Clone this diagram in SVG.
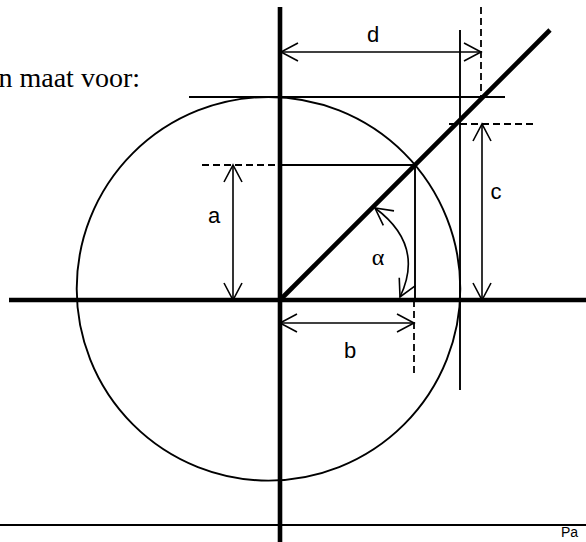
<svg xmlns="http://www.w3.org/2000/svg" width="586" height="542" viewBox="0 0 586 542">
<style>
.thick{stroke:#000;stroke-width:4.6;fill:none}
.thin{stroke:#000;stroke-width:1.9;fill:none}
.dash{stroke:#000;stroke-width:1.8;fill:none;stroke-dasharray:7 4}
.dim{stroke:#000;stroke-width:1.6;fill:none;marker-start:url(#ah);marker-end:url(#ah)}
.lbl{font-family:"Liberation Sans","Open Sans",Arial,sans-serif;font-size:22px;fill:#000;text-anchor:middle}
.serif{font-family:"Liberation Serif","Times New Roman",serif;fill:#000}
</style>
<defs>
<marker id="ah" markerUnits="userSpaceOnUse" markerWidth="40" markerHeight="40" viewBox="-20 -20 40 40" refX="0" refY="0" orient="auto-start-reverse" overflow="visible">
<path d="M-17,-9 L0,0 L-17,9" fill="none" stroke="#000" stroke-width="1.6"/>
</marker>
</defs>
<rect width="586" height="542" fill="#fff"/>
<g id="heading">
<text class="serif" x="140" y="87" font-size="28" text-anchor="end">n maat voor:</text>
</g>
<g id="circle">
<circle cx="268.5" cy="288.8" r="191.8" class="thin"/>
</g>
<g id="axes">
<line x1="9" y1="300" x2="586" y2="300" class="thick"/>
<line x1="280" y1="7" x2="280" y2="542" class="thick"/>
<line x1="280" y1="300" x2="550" y2="30" class="thick"/>
</g>
<g id="construction">
<line x1="189" y1="97" x2="505" y2="97" class="thin"/>
<line x1="460" y1="30" x2="460" y2="390" class="thin"/>
<line x1="280" y1="165" x2="415" y2="165" class="thin"/>
<line x1="415" y1="165" x2="415" y2="300" class="thin"/>
<line x1="202" y1="165" x2="280" y2="165" class="dash"/>
<line x1="414" y1="300" x2="414" y2="373" class="dash"/>
<line x1="481" y1="7" x2="481" y2="97" class="dash"/>
<line x1="449" y1="124" x2="537" y2="124" class="dash"/>
<line x1="0" y1="525" x2="586" y2="525" class="thin"/>
</g>
<g id="dimensions">
<line id="dim-a" x1="233" y1="165" x2="233" y2="300" class="dim"/>
<line id="dim-b" x1="280" y1="323" x2="414" y2="323" class="dim"/>
<line id="dim-c" x1="482" y1="124" x2="482" y2="300" class="dim"/>
<line id="dim-d" x1="281" y1="52" x2="481" y2="52" class="dim"/>
<path id="arc-alpha" d="M375,208 Q425,245 400,297" class="dim"/>
</g>
<g id="labels">
<text class="lbl" x="214" y="223">a</text>
<text class="lbl" x="350" y="358">b</text>
<text class="lbl" x="496" y="199">c</text>
<text class="lbl" x="373" y="42">d</text>
<text class="serif" x="378" y="265" font-size="24" text-anchor="middle">α</text>
<text x="561" y="537" font-family="Liberation Sans, Open Sans, sans-serif" font-size="14" fill="#000">Pa</text>
</g>
</svg>
